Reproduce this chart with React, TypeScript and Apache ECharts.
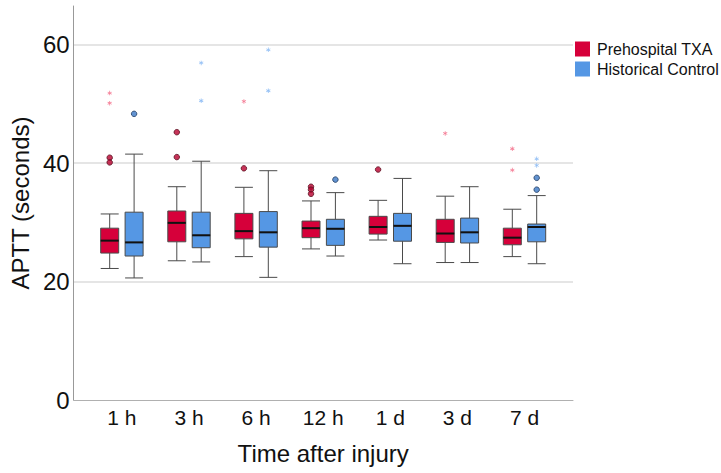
import React, { useEffect, useRef } from "react";
import * as echarts from "echarts";

const categories = ["1 h", "3 h", "6 h", "12 h", "1 d", "3 d", "7 d"];
// [min, Q1, median, Q3, max]
const txaBox = [
  [22.2, 24.8, 26.9, 29.0, 31.4],
  [23.5, 26.7, 29.9, 31.9, 36.0],
  [24.2, 27.2, 28.5, 31.5, 35.9],
  [25.5, 27.4, 29.0, 30.2, 33.6],
  [27.0, 28.0, 29.2, 31.0, 33.7],
  [23.2, 26.6, 28.1, 30.5, 34.4],
  [24.2, 26.2, 27.4, 29.0, 32.2],
];
const ctrlBox = [
  [20.6, 24.3, 26.6, 31.7, 41.5],
  [23.3, 25.7, 27.8, 31.7, 40.3],
  [20.7, 25.8, 28.3, 31.8, 38.7],
  [24.3, 26.1, 28.9, 30.5, 35.0],
  [23.0, 26.8, 29.4, 31.5, 37.4],
  [23.2, 26.5, 28.3, 30.7, 36.0],
  [23.0, 26.7, 29.2, 29.7, 34.5],
];
const txaOutliers = [[0, 40.9], [0, 40.1], [1, 45.2], [1, 41.0], [2, 39.1], [3, 36.0], [3, 35.5], [3, 34.8], [4, 38.9]];
const txaExtremes = [[0, 51.8], [0, 50.1], [2, 50.4], [5, 45.0], [6, 42.4], [6, 38.8]];
const ctrlOutliers = [[0, 48.3], [3, 37.2], [6, 37.5], [6, 35.5]];
const ctrlExtremes = [[1, 56.9], [1, 50.5], [2, 59.1], [2, 52.2], [6, 40.7], [6, 39.6]];
const yTicks = { min: 0, max: 66.5, interval: 20 };

const RED = "#d6003a";
const BLUE = "#5597e4";
const ASTERISK =
  "path://M5 0h2v4.2l3.6-2.1 1 1.7L8 6l3.6 2.1-1 1.7L7 7.8V12H5V7.8l-3.6 2.1-1-1.7L4 6 .4 3.9l1-1.7L5 4.2z";
const FONT = "Liberation Sans, Arial, sans-serif";

export default function App() {
  const ref = useRef<HTMLDivElement>(null);
  useEffect(() => {
    if (!ref.current) return;
    const chart = echarts.init(ref.current, undefined, { renderer: "svg" });
    const top = 6;
    const bottom = 73;
    const W = 721;
    const band = 67.1;
    const labelLeft = 88.35;
    const labelRight = labelLeft + band * 7;
    const shift = 12.2;
    const grids = [
      { left: 72, right: W - 573, top, bottom },
      { left: labelLeft, right: W - labelRight, top, bottom },
      { left: labelLeft - shift, right: W - (labelRight - shift), top, bottom },
      { left: labelLeft + shift, right: W - (labelRight + shift), top, bottom },
    ];
    const hiddenY = (i: number) => ({
      type: "value",
      gridIndex: i,
      min: yTicks.min,
      max: yTicks.max,
      interval: yTicks.interval,
      show: false,
    });
    const hiddenX = (i: number) => ({
      type: "category",
      gridIndex: i,
      data: categories,
      show: false,
    });
    const medianSeries = (name: string, idx: number, data: number[][]) => ({
      type: "custom",
      name,
      xAxisIndex: idx,
      yAxisIndex: idx,
      z: 5,
      data: data.map((d, i) => [i, d[2]]),
      renderItem: (_p: any, api: any) => {
        const p = api.coord([api.value(0), api.value(1)]);
        return {
          type: "line",
          shape: { x1: p[0] - 9, y1: p[1], x2: p[0] + 9, y2: p[1] },
          style: { stroke: "#111", lineWidth: 2 },
        };
      },
    });
    const boxSeries = (name: string, idx: number, data: number[][], color: string) => ({
      type: "boxplot",
      name,
      xAxisIndex: idx,
      yAxisIndex: idx,
      boxWidth: [18, 18],
      data,
      itemStyle: { color, borderColor: "#4a4a4a", borderWidth: 1 },
    });
    const scatter = (name: string, idx: number, data: number[][], symbol: string, size: number, color: string, border?: string) => ({
      type: "scatter",
      name,
      xAxisIndex: idx,
      yAxisIndex: idx,
      symbol,
      symbolSize: size,
      z: 6,
      data,
      itemStyle: border ? { color, borderColor: border, borderWidth: 1 } : { color },
    });
    chart.setOption({
      animation: false,
      backgroundColor: "#fff",
      textStyle: { fontFamily: FONT },
      grid: grids,
      legend: {
        data: [
          { name: "Prehospital TXA", itemStyle: { color: RED, borderWidth: 0 } },
          { name: "Historical Control", itemStyle: { color: BLUE, borderWidth: 0 } },
        ],
        orient: "vertical",
        left: 570,
        top: 36,
        icon: "rect",
        itemWidth: 15,
        itemHeight: 15,
        itemGap: 4,
        textStyle: { fontSize: 16, color: "#111", fontFamily: FONT, padding: [0, 0, 0, 2] },
      },
      xAxis: [
        {
          type: "category",
          gridIndex: 0,
          data: categories,
          axisLine: { show: true, lineStyle: { color: "#b0b0b0" } },
          axisTick: { show: false },
          axisLabel: { show: false },
        },
        {
          type: "category",
          gridIndex: 1,
          data: categories,
          axisLine: { show: false },
          axisTick: { show: false },
          axisLabel: { fontSize: 21, color: "#111", margin: 7 },
          name: "Time after injury",
          nameLocation: "middle",
          nameGap: 41,
          nameTextStyle: { fontSize: 24, color: "#111" },
        },
        hiddenX(2),
        hiddenX(3),
      ],
      yAxis: [
        {
          type: "value",
          gridIndex: 0,
          min: yTicks.min,
          max: yTicks.max,
          interval: yTicks.interval,
          axisLine: { show: true, lineStyle: { color: "#999" } },
          axisTick: { show: false },
          axisLabel: { fontSize: 24, color: "#111", margin: 4, showMaxLabel: false },
          splitLine: { show: true, showMinLine: false, showMaxLine: false, lineStyle: { color: "#dcdcdc", width: 1.5 } },
          name: "APTT (seconds)",
          nameLocation: "middle",
          nameGap: 40,
          nameTextStyle: { fontSize: 24, color: "#111" },
        },
        hiddenY(1),
        hiddenY(2),
        hiddenY(3),
      ],
      series: [
        boxSeries("Prehospital TXA", 2, txaBox, RED),
        boxSeries("Historical Control", 3, ctrlBox, BLUE),
        medianSeries("TXA median", 2, txaBox),
        medianSeries("Control median", 3, ctrlBox),
        scatter("TXA outliers", 2, txaOutliers, "circle", 5.5, "#b8002e", "#5a1020"),
        scatter("TXA extremes", 2, txaExtremes, ASTERISK, 4.5, "#f2607e"),
        scatter("Control outliers", 3, ctrlOutliers, "circle", 5.5, "#3b78c6", "#1f3b60"),
        scatter("Control extremes", 3, ctrlExtremes, ASTERISK, 4.5, "#79b0f2"),
      ],
    });
    return () => chart.dispose();
  }, []);
  return (
    <div
      ref={ref}
      style={{ position: "fixed", left: 0, top: 0, width: 721, height: 473 }}
    />
  );
}
